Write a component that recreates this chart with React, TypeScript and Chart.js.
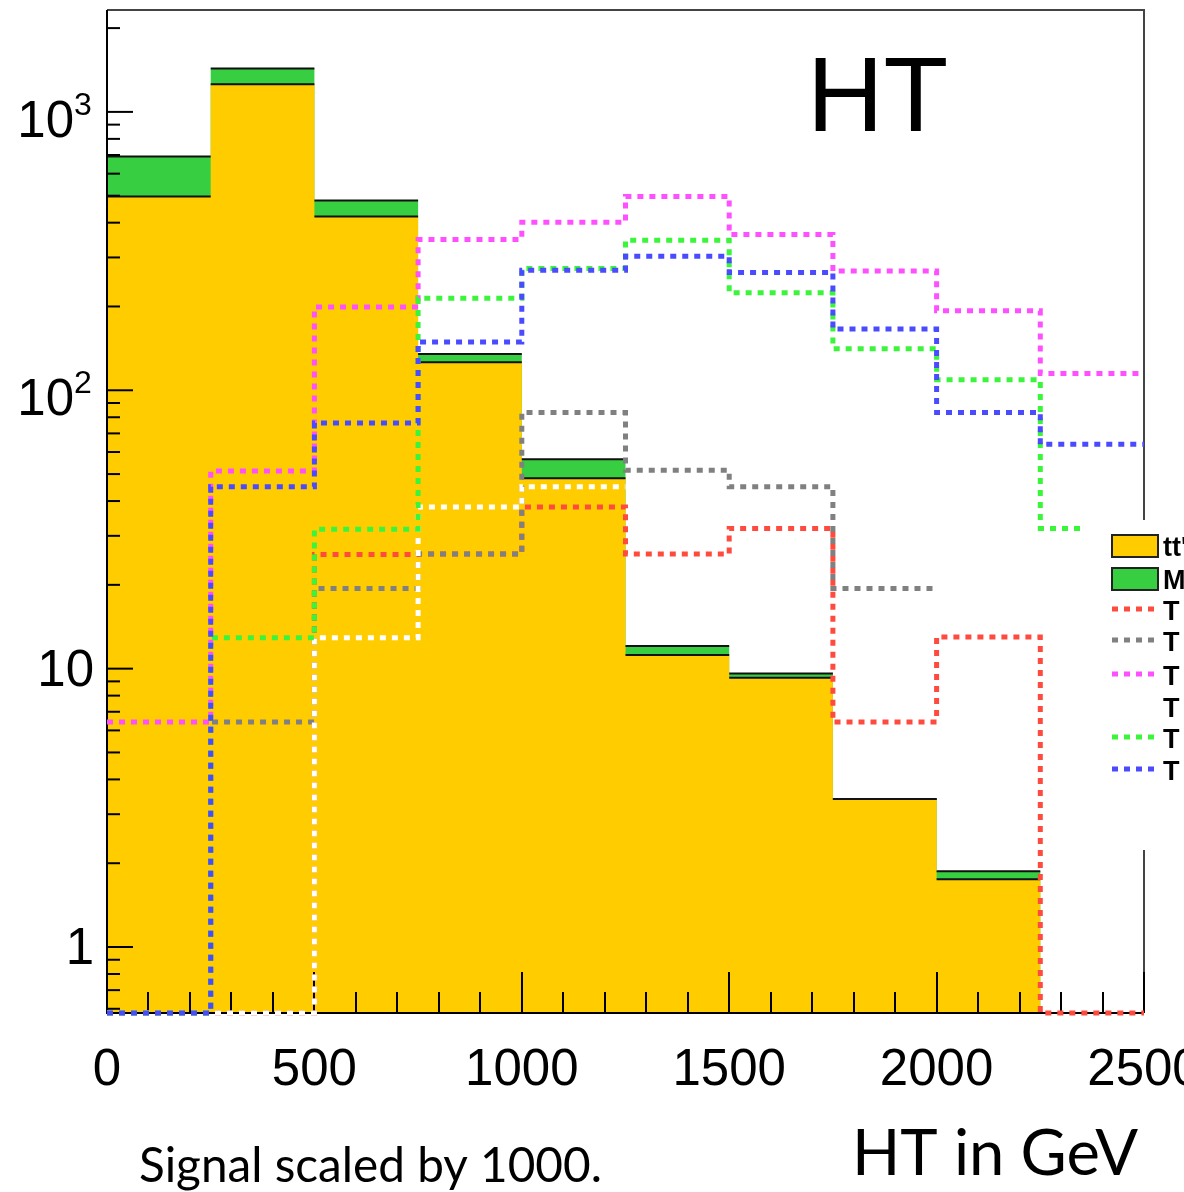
import React, { useEffect, useRef } from "react";
import { Chart, registerables } from "chart.js";

Chart.register(...registerables);

// ---------- data ----------
const BIN_EDGES = [0, 250, 500, 750, 1000, 1250, 1500, 1750, 2000, 2250, 2500];
const TTBAR_COUNTS = [497, 1256, 421, 126, 48.3, 11.2, 9.28, 3.4, 1.75, 0];
const OTHER_BKG_COUNTS = [195, 176, 60, 9, 8.2, 0.85, 0.32, 0, 0.12, 0];
const SIGNAL_RED = [0, 0, 25.7, 25.8, 38.1, 25.8, 31.9, 6.43, 13.0, 0];
const SIGNAL_GRAY = [0, 6.43, 19.4, 25.8, 83.2, 51.6, 45.0, 19.4, null, null];
const SIGNAL_MAGENTA = [6.43, 51.3, 199, 348, 401, 497, 363, 268, 193, 115];
const SIGNAL_WHITE = [0, 0, 12.9, 38.1, 45.0, null, null, null, null, null];
const SIGNAL_GREEN = [0, 12.9, 31.7, 214, 274, 346, 224, 141, 109, 31.9];
const SIGNAL_BLUE = [0, 45.0, 76.3, 149, 270, 303, 265, 166, 83.2, 64.0];

const LEGEND_LABELS = ["tt'", "M", "T", "T", "T", "T", "T", "T"];

const X_TICK_VALUES = [0, 500, 1000, 1500, 2000, 2500];
const X_TICK_LABELS = ["0", "500", "1000", "1500", "2000", "2500"];
const Y_TICK_VALUES = [1, 10, 100, 1000];
const Y_TICK_BASES = ["1", "10", "10", "10"];
const Y_TICK_EXPONENTS = ["", "", "2", "3"];

const TITLE = "HT";
const X_TITLE = "HT in GeV";
const NOTE = "Signal scaled by 1000.";

const X_MIN = 0;
const X_MAX = 2500;
const Y_MIN = 0.5794;
const Y_MAX = 2323;

// ---------- styles ----------
const COL_TTBAR = "#FFCC00";
const COL_OTHER = "#38CE42";
const COL_RED = "#FF4B3E";
const COL_GRAY = "#808080";
const COL_MAGENTA = "#FF50FF";
const COL_WHITE = "#FFFFFF";
const COL_GREEN = "#3BF53B";
const COL_BLUE = "#4A4AFF";

type Pt = { x: number; y: number | null };

function yOf(v: number | null) {
  return v === null ? null : v > 0 ? v : Y_MIN;
}

// full step outline (with verticals)
function histPoints(values: (number | null)[]): Pt[] {
  const pts: Pt[] = [];
  values.forEach((v, i) => {
    const y = yOf(v);
    pts.push({ x: BIN_EDGES[i], y }, { x: BIN_EDGES[i + 1], y });
  });
  return pts;
}

// only the horizontal bin tops (broken between bins)
function histTops(values: (number | null)[]): Pt[] {
  const pts: Pt[] = [];
  values.forEach((v, i) => {
    if (v === null || v <= 0) return;
    pts.push({ x: BIN_EDGES[i], y: v }, { x: BIN_EDGES[i + 1], y: v }, { x: BIN_EDGES[i + 1], y: null });
  });
  return pts;
}

const TOTAL_COUNTS = TTBAR_COUNTS.map((v, i) => v + OTHER_BKG_COUNTS[i]);

function signalDataset(label: string, values: (number | null)[], color: string, order: number) {
  return {
    label,
    data: histPoints(values),
    borderColor: color,
    borderWidth: 5,
    borderDash: [6, 6],
    borderCapStyle: "butt",
    borderJoinStyle: "miter",
    fill: false,
    pointRadius: 0,
    tension: 0,
    spanGaps: false,
    clip: false,
    order,
  };
}

function fillDataset(label: string, values: number[], color: string, order: number) {
  return {
    label,
    data: histPoints(values),
    borderWidth: 0,
    borderColor: "rgba(0,0,0,0)",
    backgroundColor: color,
    fill: "start",
    pointRadius: 0,
    tension: 0,
    order,
  };
}

function topLineDataset(label: string, values: number[], order: number) {
  return {
    label,
    data: histTops(values),
    borderWidth: 2,
    borderColor: "#111",
    fill: false,
    pointRadius: 0,
    tension: 0,
    spanGaps: false,
    order,
  };
}

const FRAME_AFTER_DATASET = 3; // after the tt top line, before the signals

function drawFrame(chart: any) {
  const { ctx, chartArea: a, scales } = chart;
  const xs = scales.x;
  const ys = scales.y;
  ctx.save();
  ctx.lineWidth = 2;
  ctx.strokeStyle = "#444";
  ctx.beginPath();
  ctx.moveTo(a.left, a.top);
  ctx.lineTo(a.right, a.top);
  ctx.lineTo(a.right, a.bottom);
  ctx.stroke();
  ctx.strokeStyle = "#000";
  ctx.beginPath();
  ctx.moveTo(a.left, a.top);
  ctx.lineTo(a.left, a.bottom);
  ctx.lineTo(a.right, a.bottom);
  ctx.stroke();

  for (let v = X_MIN; v <= X_MAX; v += 100) {
    const px = Math.round(xs.getPixelForValue(v));
    const len = v % 500 === 0 ? 41 : 21;
    ctx.beginPath();
    ctx.moveTo(px, a.bottom);
    ctx.lineTo(px, a.bottom - len);
    ctx.stroke();
  }
  for (let d = 0.1; d <= 1000; d *= 10) {
    for (let m = 1; m <= 9; m++) {
      const v = m * d;
      if (v < Y_MIN || v > Y_MAX) continue;
      const py = ys.getPixelForValue(v);
      const len = m === 1 ? 26 : 13;
      ctx.beginPath();
      ctx.moveTo(a.left, py);
      ctx.lineTo(a.left + len, py);
      ctx.stroke();
    }
  }
  ctx.restore();
}

const decorPlugin = {
  id: "decor",
  afterDatasetDraw(chart: any, args: any) {
    if (args.index === FRAME_AFTER_DATASET) drawFrame(chart);
  },
  afterDraw(chart: any) {
    const { ctx, chartArea: a, scales } = chart;
    const xs = scales.x;
    const ys = scales.y;
    ctx.save();

    // x labels
    ctx.fillStyle = "#000";
    ctx.font = '51px "Liberation Sans", Arial, sans-serif';
    ctx.textAlign = "center";
    ctx.textBaseline = "alphabetic";
    X_TICK_VALUES.forEach((v, i) => {
      ctx.fillText(X_TICK_LABELS[i], xs.getPixelForValue(v), a.bottom + 72);
    });

    // y labels
    Y_TICK_VALUES.forEach((v, i) => {
      const py = ys.getPixelForValue(v);
      const exp = Y_TICK_EXPONENTS[i];
      ctx.font = '51px "Liberation Sans", Arial, sans-serif';
      ctx.textAlign = "right";
      if (!exp) {
        ctx.fillText(Y_TICK_BASES[i], 94, py + 17);
      } else {
        ctx.fillText(Y_TICK_BASES[i], 74, py + 25);
        ctx.font = '32px "Liberation Sans", Arial, sans-serif';
        ctx.textAlign = "left";
        ctx.fillText(exp, 74, py + 3);
      }
    });

    // title
    ctx.font = '106px "Liberation Sans", Arial, sans-serif';
    ctx.textAlign = "left";
    ctx.fillText(TITLE, 807, 131);

    // legend
    ctx.fillStyle = "#fff";
    ctx.fillRect(1084, 520, 120, 330);
    const rows = [546, 579, 610, 641, 675, 707, 738, 770];
    const boxes = [COL_TTBAR, COL_OTHER];
    const lines = [COL_RED, COL_GRAY, COL_MAGENTA, COL_WHITE, COL_GREEN, COL_BLUE];
    boxes.forEach((c, i) => {
      ctx.fillStyle = c;
      ctx.fillRect(1112, rows[i] - 11, 46, 22);
      ctx.strokeStyle = "#222";
      ctx.lineWidth = 2;
      ctx.strokeRect(1112, rows[i] - 11, 46, 22);
    });
    lines.forEach((c, i) => {
      ctx.strokeStyle = c;
      ctx.lineWidth = 5;
      ctx.setLineDash([6, 6]);
      ctx.beginPath();
      ctx.moveTo(1112, rows[i + 2] - 1);
      ctx.lineTo(1158, rows[i + 2] - 1);
      ctx.stroke();
    });
    ctx.setLineDash([]);
    ctx.fillStyle = "#000";
    ctx.font = 'bold 27px "Liberation Sans", Arial, sans-serif';
    ctx.textAlign = "left";
    LEGEND_LABELS.forEach((t, i) => {
      ctx.fillText(t, 1163, rows[i] + 10);
    });

    // bottom texts (fit to width)
    const fitText = (txt: string, left: number, baseline: number, width: number) => {
      ctx.font = '50px Lato, "Open Sans", sans-serif';
      const m = ctx.measureText(txt);
      const w = m.actualBoundingBoxRight + m.actualBoundingBoxLeft;
      const size = (50 * width) / w;
      ctx.font = `${size.toFixed(1)}px Lato, "Open Sans", sans-serif`;
      const m2 = ctx.measureText(txt);
      ctx.textAlign = "left";
      ctx.fillText(txt, left + m2.actualBoundingBoxLeft, baseline);
    };
    fitText(NOTE, 140, 1182, 460);
    fitText(X_TITLE, 857, 1175, 281);

    ctx.restore();
  },
};

export default function App() {
  const ref = useRef<HTMLCanvasElement | null>(null);

  useEffect(() => {
    if (!ref.current) return;
    const chart = new Chart(ref.current, {
      type: "line",
      data: {
        datasets: [
          fillDataset("total fill", TOTAL_COUNTS, COL_OTHER, 10),
          fillDataset("tt fill", TTBAR_COUNTS, COL_TTBAR, 9),
          topLineDataset("total line", TOTAL_COUNTS, 8),
          topLineDataset("tt line", TTBAR_COUNTS, 7),
          signalDataset("red", SIGNAL_RED, COL_RED, 5),
          signalDataset("gray", SIGNAL_GRAY, COL_GRAY, 4),
          signalDataset("magenta", SIGNAL_MAGENTA, COL_MAGENTA, 3),
          signalDataset("white", SIGNAL_WHITE, COL_WHITE, 2),
          signalDataset("green", SIGNAL_GREEN, COL_GREEN, 1),
          signalDataset("blue", SIGNAL_BLUE, COL_BLUE, 0),
        ] as any,
      },
      options: {
        animation: false,
        responsive: false,
        devicePixelRatio: 1,
        events: [],
        layout: { padding: { left: 107, top: 10, right: 40, bottom: 179 } },
        scales: {
          x: { type: "linear", min: X_MIN, max: X_MAX, display: false },
          y: { type: "logarithmic", min: Y_MIN, max: Y_MAX, display: false },
        },
        plugins: {
          legend: { display: false },
          tooltip: { enabled: false },
        },
      } as any,
      plugins: [decorPlugin],
    });
    return () => chart.destroy();
  }, []);

  return (
    <div style={{ position: "absolute", left: 0, top: 0, width: 1184, height: 1192, background: "#fff" }}>
      <canvas ref={ref} width={1184} height={1192} style={{ display: "block" }} />
    </div>
  );
}
